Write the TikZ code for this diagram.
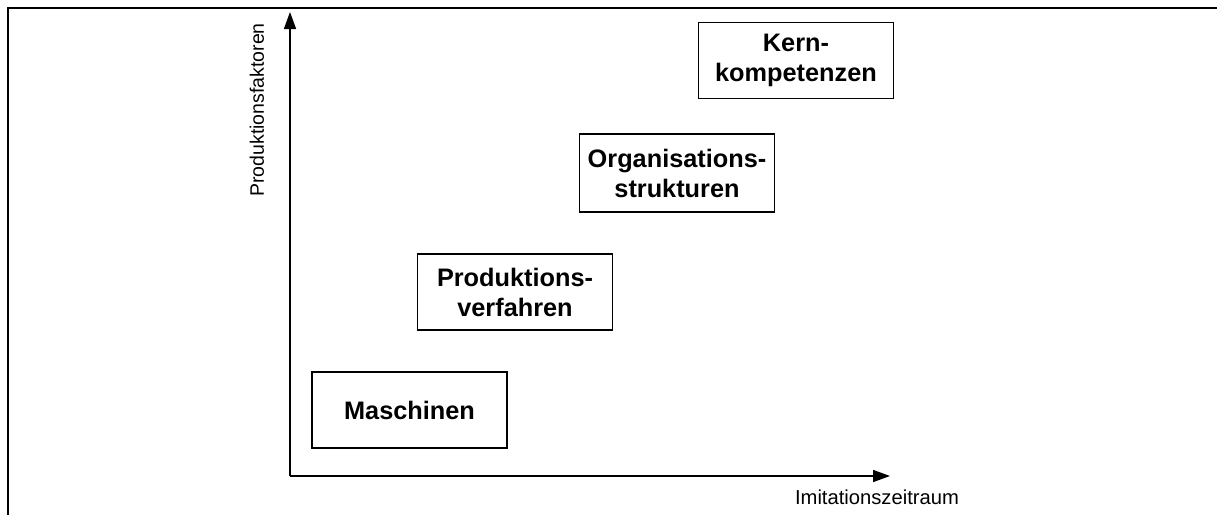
\documentclass[tikz,border=0pt]{standalone}
\usepackage{fontspec}
\setmainfont{Liberation Sans}
\usetikzlibrary{arrows.meta}
\begin{document}
\begin{tikzpicture}[x=1pt,y=-1pt,
  factorbox/.style={draw,line width=1.6pt,rectangle,minimum width=195pt,minimum height=76pt,
    inner sep=0pt,align=center,font=\fontsize{25.3}{30}\selectfont\bfseries},
  axisline/.style={line width=1.6pt,-{Triangle[length=17pt,width=12pt]}},
  axislabel/.style={inner sep=0pt,font=\fontsize{19.5}{23}\selectfont}]
  \useasboundingbox (0,0) rectangle (1217,514);
  % outer frame
  \draw[line width=1.8pt] (8,520) -- (8,8) -- (1225,8);
  % axes
  \coordinate (origin) at (290,476);
  \coordinate (ytip) at (290,12);
  \coordinate (xtip) at (890,476);
  \draw[axisline] (origin) -- (ytip);
  \draw[axisline] (origin) -- (xtip);
  \node[axislabel,rotate=90] (ylab) at (257,110) {Produktionsfaktoren};
  \node[axislabel,font=\fontsize{20.2}{24}\selectfont] (xlab) at (877,497) {Imitationszeitraum};
  % factors
  \node[factorbox] (masch) at (409.5,410) {Maschinen};
  \node[factorbox] (verf) at (515,292) {Produktions-\\verfahren};
  \node[factorbox,minimum height=78pt] (org) at (677,173) {Organisations-\\strukturen};
  \node[factorbox] (kern) at (796,60.5) {Kern-\\kompetenzen};
\end{tikzpicture}
\end{document}
